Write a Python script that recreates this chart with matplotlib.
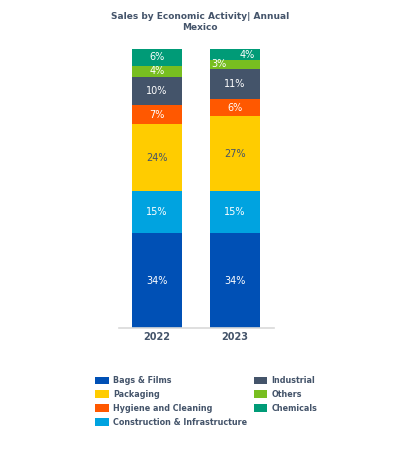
import matplotlib.pyplot as plt
import numpy as np

years = ['2022', '2023']
segments = ['Bags & Films', 'Construction & Infrastructure', 'Packaging',
            'Hygiene and Cleaning', 'Industrial', 'Others', 'Chemicals']
values = {
    'Bags & Films': [34, 34],
    'Construction & Infrastructure': [15, 15],
    'Packaging': [24, 27],
    'Hygiene and Cleaning': [7, 6],
    'Industrial': [10, 11],
    'Others': [4, 3],
    'Chemicals': [6, 4],
}
colors = {
    'Bags & Films': '#0050B5',
    'Construction & Infrastructure': '#00A3E0',
    'Packaging': '#FFCC00',
    'Hygiene and Cleaning': '#FF5800',
    'Industrial': '#44546A',
    'Others': '#78BE20',
    'Chemicals': '#009B77',
}
label_colors = {
    'Packaging': '#44546A',
}
legend_order = ['Bags & Films', 'Packaging', 'Hygiene and Cleaning',
                'Construction & Infrastructure', 'Industrial', 'Others', 'Chemicals']

text_color = '#44546A'

fig = plt.figure(figsize=(3.98, 4.49), dpi=100)
ax = fig.add_axes([119 / 398, 1 - 328 / 449, (274 - 119) / 398, (328 - 49) / 449])

x = np.arange(len(years))
bottom = np.zeros(len(years))
handles = {}
for seg in segments:
    vals = np.array(values[seg], dtype=float)
    bars = ax.bar(x, vals, width=0.65, bottom=bottom, color=colors[seg], label=seg)
    handles[seg] = bars
    for i, v in enumerate(vals):
        xpos = x[i]
        # small top segments in 2023 are nudged sideways in the reference
        if seg == 'Chemicals' and i == 1:
            xpos += 0.15
        if seg == 'Others' and i == 1:
            xpos -= 0.2
        ax.text(xpos, bottom[i] + v / 2, f'{int(v)}%', ha='center', va='center',
                fontsize=7, color=label_colors.get(seg, 'white'))
    bottom += vals

ax.set_xlim(-0.487, 1.5)
ax.set_ylim(0, 100)
ax.set_xticks(x)
ax.set_xticklabels(years, fontsize=7, fontweight='bold', color=text_color)
ax.tick_params(axis='x', length=0, pad=3)
ax.set_yticks([])
for side in ['top', 'right', 'left']:
    ax.spines[side].set_visible(False)
ax.spines['bottom'].set_color('#D9D9D9')
ax.spines['bottom'].set_linewidth(1.2)

fig.text(200 / 398, 1 - 22 / 449, 'Sales by Economic Activity| Annual\nMexico',
         ha='center', va='center', fontsize=6.5, fontweight='bold', color=text_color,
         linespacing=1.25)

leg = fig.legend([handles[s] for s in legend_order], legend_order, ncol=2,
                 loc='upper left', bbox_to_anchor=(88 / 398, 1 - 369 / 449),
                 frameon=False, fontsize=5.8, handlelength=1.7, handleheight=1.1,
                 handletextpad=0.5, columnspacing=0.8, labelspacing=0.6)
for t in leg.get_texts():
    t.set_color(text_color)
    t.set_fontweight('bold')

fig.savefig('out.png', dpi=100)
